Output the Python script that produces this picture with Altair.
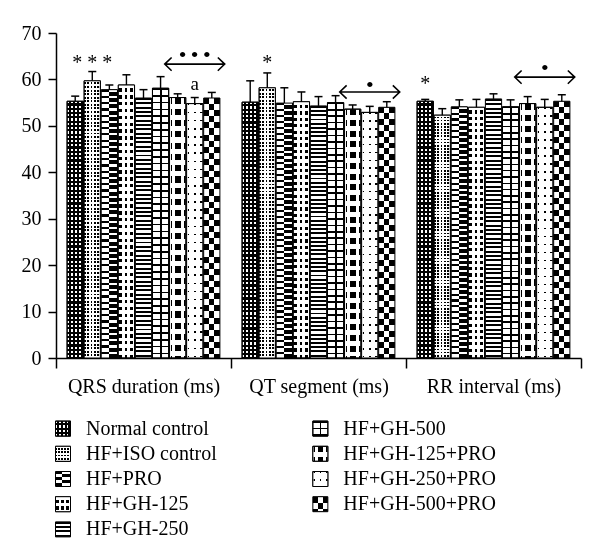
import math
import altair as alt
import pandas as pd

# ---------------- data ----------------
groups = ["QRS duration (ms)", "QT segment (ms)", "RR interval (ms)"]
series = ["Normal control", "HF+ISO control", "HF+PRO", "HF+GH-125", "HF+GH-250",
          "HF+GH-500", "HF+GH-125+PRO", "HF+GH-250+PRO", "HF+GH-500+PRO"]
qrs_mean = [55.3, 59.7, 57.8, 58.8, 56.0, 58.1, 56.1, 54.8, 56.0]
qrs_err = [1.1, 2.0, 1.0, 2.2, 1.8, 2.5, 0.8, 1.3, 1.2]
qt_mean = [55.1, 58.2, 54.9, 55.2, 54.3, 55.0, 53.6, 52.9, 54.0]
qt_err = [4.6, 3.2, 3.3, 2.1, 2.0, 1.5, 0.9, 1.3, 1.2]
rr_mean = [55.3, 52.3, 54.1, 54.0, 55.8, 54.1, 54.8, 54.0, 55.3]
rr_err = [0.4, 1.4, 1.5, 1.7, 1.1, 1.5, 1.5, 1.7, 1.4]

# significance marks
note_group = ["QRS duration (ms)", "QT segment (ms)", "RR interval (ms)", "QRS duration (ms)",
              "QRS duration (ms)", "QT segment (ms)", "RR interval (ms)"]
note_series = ["HF+ISO control", "HF+ISO control", "Normal control", "HF+GH-250+PRO",
               "HF+GH-250+PRO", "HF+GH-250+PRO", "HF+GH-250+PRO"]
note_y = [63.5, 63.5, 59.0, 59.0, 65.3, 58.8, 62.5]
note_text = ["* * *", "*", "*", "a", "\u2022\u2009\u2022\u2009\u2022", "\u2022", "\u2022"]
note_kind = ["star", "star", "star", "letter", "dot", "dot", "dot"]

# double-headed arrows
arrow_group = ["QRS duration (ms)", "QT segment (ms)", "RR interval (ms)"]
arrow_series = ["HF+GH-250+PRO", "HF+GH-250+PRO", "HF+GH-250+PRO"]
arrow_y = [63.3, 57.3, 60.5]

# legend layout
leg_col = [0, 0, 0, 0, 0, 1, 1, 1, 1]
leg_row = [0, 1, 2, 3, 4, 0, 1, 2, 3]

# ---------------- tables ----------------
rows = []
for g, means, errs in zip(groups, [qrs_mean, qt_mean, rr_mean], [qrs_err, qt_err, rr_err]):
    for s, m, e in zip(series, means, errs):
        rows.append({"group": g, "series": s, "mean": m, "upper": m + e})
df = pd.DataFrame(rows)
notes = pd.DataFrame({"group": note_group, "series": note_series, "yv": note_y,
                      "text": note_text, "kind": note_kind})
arrows = pd.DataFrame({"group": arrow_group, "series": arrow_series, "yv": arrow_y})
leg = pd.DataFrame({"series": series, "col": leg_col, "row": leg_row})

# ---------------- patterns (built from stripe gradients) ----------------
W, K, T = "white", "black", "rgba(255,255,255,0)"
PLOT_W, PLOT_H, YMAX = 525, 325, 70

patterns = {
    "Normal control": [("h", 0.25, [(0, 0.45, W), (0.45, 1, K)], None),
                       ("v", 4.3, [(0, 0.5, T), (0.5, 1, K)], None)],
    "HF+ISO control": [("h", 0.2, [(0, 0.55, K), (0.55, 1, W)], None),
                       ("v", 3.4, [(0, 0.45, W), (0.45, 1, T)], None)],
    "HF+PRO": [("h", 1.0, [(0, 0.45, W), (0.45, 1, K)], None),
               ("v", 6.0, [(0, 0.35, W), (0.35, 1, K)], "difference")],
    "HF+GH-125": [("h", 1 / 3, [(0, 0.15, W), (0.15, 0.65, K), (0.65, 1, W)], None),
                  ("v", 6.5, [(0, 0.5, W), (0.5, 1, T)], None)],
    "HF+GH-250": [("v", 4.3, [(0, 0.45, K), (0.45, 1, W)], None)],
    "HF+GH-500": [("v", 6.5, [(0, 0.25, K), (0.25, 1, W)], None),
                  ("h", 1.0, [(0, 0.46, T), (0.46, 0.56, K), (0.56, 1, T)], None)],
    "HF+GH-125+PRO": [("h", 1.0, [(0, 0.07, W), (0.07, 0.13, K), (0.13, 0.32, W), (0.32, 0.68, K),
                                  (0.68, 0.87, W), (0.87, 0.93, K), (0.93, 1, W)], None),
                      ("v", 11.0, [(0, 0.55, T), (0.55, 1, W)], None)],
    "HF+GH-250+PRO": [("h", 1.0, [(0, 0.08, W), (0.08, 0.15, K), (0.15, 0.45, W), (0.45, 0.56, K),
                                  (0.56, 0.85, W), (0.85, 0.92, K), (0.92, 1, W)], None),
                      ("v", 8.0, [(0, 0.2, T), (0.2, 1, W)], None)],
    "HF+GH-500+PRO": [("h", 2 / 3, [(0, 0.5, W), (0.5, 1, K)], None),
                      ("v", 12.0, [(0, 0.5, W), (0.5, 1, K)], "difference")],
}


def gradient(direction, period, segs, length_px):
    # 'h' periods are fractions of the width; 'v' periods are pixels along the height
    per = period if direction == "h" else period / length_px
    stops = []
    k = 0
    while k * per < 1:
        for a, b, col in segs:
            o1 = min(1.0, (k + a) * per)
            o2 = min(1.0, (k + b) * per)
            stops.append({"offset": round(o1, 5), "color": col})
            stops.append({"offset": round(o2, 5), "color": col})
        k += 1
    if direction == "h":
        return {"gradient": "linear", "x1": 0, "y1": 0, "x2": 1, "y2": 0, "stops": stops}
    return {"gradient": "linear", "x1": 0, "y1": 0, "x2": 0, "y2": 1, "stops": stops}


# ---------------- encodings ----------------
x_enc = alt.X("group:N", scale=alt.Scale(domain=groups, paddingInner=0, paddingOuter=0),
              axis=alt.Axis(title=None, labelAngle=0, tickBand="extent", tickSize=10,
                            labelPadding=8))
xo_enc = alt.XOffset("series:N", scale=alt.Scale(domain=series, paddingInner=0.05,
                                                  paddingOuter=0.65))
y_scale = alt.Scale(domain=[0, YMAX], nice=False)
y_axis = alt.Axis(title=None, values=list(range(0, 71, 10)), tickSize=8, labelPadding=7,
                  grid=False)
y_bar = alt.Y("mean:Q", scale=y_scale, axis=y_axis)
y_up = alt.Y("upper:Q", scale=y_scale, axis=y_axis)
y_note = alt.Y("yv:Q", scale=y_scale, axis=y_axis)

layers = []
for s in series:
    vals = df[df["series"] == s]["mean"]
    length = float(vals.mean()) * PLOT_H / YMAX
    for direction, period, segs, blend in patterns[s]:
        kw = dict(fill=gradient(direction, period, segs, length), stroke="black",
                  strokeWidth=1, opacity=1)
        if blend:
            kw["blend"] = blend
        layers.append(
            alt.Chart(df).transform_filter(alt.datum.series == s)
            .mark_bar(**kw).encode(x=x_enc, xOffset=xo_enc, y=y_bar)
        )

err_rule = alt.Chart(df).mark_rule(color="black", strokeWidth=1.4).encode(
    x=x_enc, xOffset=xo_enc, y=y_bar, y2="upper:Q")
err_cap = alt.Chart(df).mark_tick(color="black", orient="horizontal", size=8, thickness=1.5,
                                  opacity=1).encode(x=x_enc, xOffset=xo_enc, y=y_up)

txt_common = dict(font="Liberation Serif", color="black", align="center", baseline="middle")
stars = alt.Chart(notes).transform_filter(alt.datum.kind == "star").mark_text(
    fontSize=20, **txt_common).encode(x=x_enc, xOffset=xo_enc, y=y_note, text="text:N")
letters = alt.Chart(notes).transform_filter(alt.datum.kind == "letter").mark_text(
    fontSize=19, **txt_common).encode(x=x_enc, xOffset=xo_enc, y=y_note, text="text:N")
dots = alt.Chart(notes).transform_filter(alt.datum.kind == "dot").mark_text(
    fontSize=22, **txt_common).encode(x=x_enc, xOffset=xo_enc, y=y_note, text="text:N")

arrow_path = "M-1,0L1,0M-0.77,-0.22L-1,0L-0.77,0.22M0.77,-0.22L1,0L0.77,0.22"
arrow_layer = alt.Chart(arrows).mark_point(shape=arrow_path, size=3600, filled=False,
                                           stroke="black", strokeWidth=1.6, opacity=1).encode(
    x=x_enc, xOffset=xo_enc, y=y_note)

main = alt.layer(*layers, err_rule, err_cap, stars, letters, dots, arrow_layer).properties(
    width=PLOT_W, height=PLOT_H)

# ---------------- legend ----------------
SW = 15
lx = alt.X("col:Q", scale=alt.Scale(domain=[0, 2.04]), axis=None)
ly = alt.Y("row:Q", scale=alt.Scale(domain=[-0.5, 4.5], reverse=True), axis=None)
leg_layers = []
for s in series:
    for direction, period, segs, blend in patterns[s]:
        kw = dict(fill=gradient(direction, period, segs, SW), stroke="black", strokeWidth=1,
                  opacity=1, size=SW * SW, xOffset=7)
        if blend:
            kw["blend"] = blend
        leg_layers.append(
            alt.Chart(leg).transform_filter(alt.datum.series == s)
            .mark_square(**kw).encode(x=lx, y=ly)
        )
leg_text = alt.Chart(leg).mark_text(font="Liberation Serif", fontSize=20, color="black",
                                    align="left", baseline="middle", xOffset=7, dx=23).encode(
    x=lx, y=ly, text="series:N")
legend = alt.layer(*leg_layers, leg_text).properties(width=PLOT_W, height=126)

chart = alt.vconcat(main, legend, spacing=20).properties(
    padding={"left": 13, "top": 15, "right": 5, "bottom": 5},
    background="white",
).configure_view(stroke=None).configure_axis(
    domainColor="black", domainWidth=1.5, tickColor="black", tickWidth=1.5,
    labelColor="black", labelFont="Liberation Serif", labelFontSize=20,
)

chart.save("out.html", embed_options={"renderer": "svg", "actions": False})
